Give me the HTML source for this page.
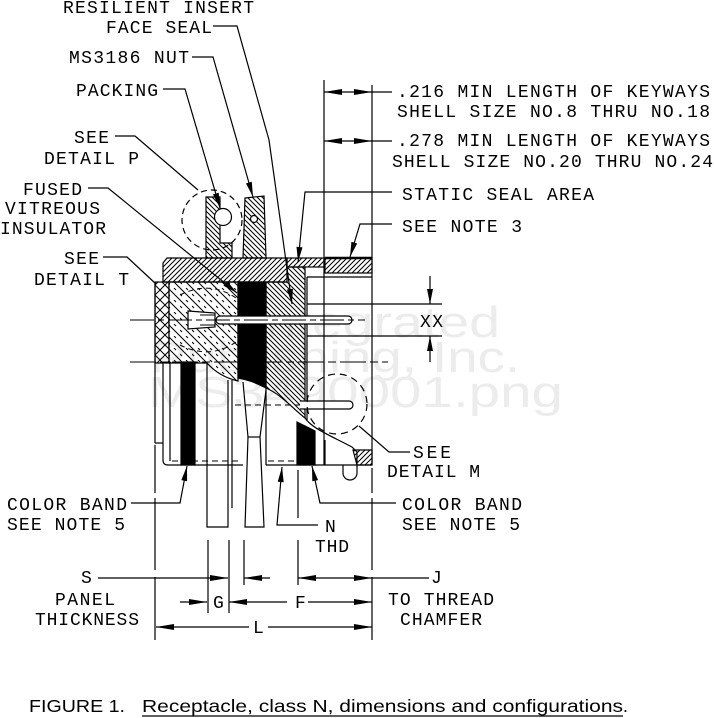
<!DOCTYPE html>
<html>
<head>
<meta charset="utf-8">
<style>
html,body{margin:0;padding:0;background:#fff;}
svg{display:block;}
.t{font-family:"Liberation Mono","DejaVu Sans Mono",monospace;font-size:18px;fill:#000;}
.c{font-family:"Liberation Sans",Arial,sans-serif;font-size:17.5px;fill:#000;}
.w{font-family:"Liberation Sans",Arial,sans-serif;font-size:44px;fill:#ececec;}
</style>
</head>
<body>
<svg width="714" height="718" viewBox="0 0 714 718" xmlns="http://www.w3.org/2000/svg">
<defs>
<pattern id="hf" width="5" height="5" patternUnits="userSpaceOnUse"><path d="M-1,1 L1,-1 M0,5 L5,0 M4,6 L6,4" stroke="#000" stroke-width="1"/></pattern>
<pattern id="hb" width="5" height="5" patternUnits="userSpaceOnUse"><path d="M-1,4 L1,6 M0,0 L5,5 M4,-1 L6,1" stroke="#000" stroke-width="1"/></pattern>
<pattern id="hx" width="10" height="10" patternUnits="userSpaceOnUse"><path d="M0,0 L10,10 M-1,9 L1,11 M9,-1 L11,1 M0,10 L10,0 M-1,1 L1,-1 M9,11 L11,9" stroke="#000" stroke-width="1"/></pattern>
<pattern id="hi" width="12" height="12" patternUnits="userSpaceOnUse"><path d="M0,0 L12,12 M-1,11 L1,13 M11,-1 L13,1" stroke="#000" stroke-width="1"/><path d="M6,0 L8,2 M0,6 L2,8" stroke="#000" stroke-width="1"/></pattern>
</defs>

<!-- watermark -->
<text class="w" x="250" y="337" textLength="250" lengthAdjust="spacingAndGlyphs">Integrated</text>
<text class="w" x="150" y="372" textLength="370" lengthAdjust="spacingAndGlyphs">Publishing, Inc.</text>
<text class="w" x="148" y="407" textLength="415" lengthAdjust="spacingAndGlyphs">MS3490001.png</text>

<g stroke="#000" stroke-width="1.2" fill="none">
<!-- flange -->
<path d="M163,263 L167,258 L287,258 L287,282 L163,282 Z" fill="url(#hf)"/>
<rect x="287" y="258" width="37" height="9" fill="url(#hf)"/>
<!-- shell top band -->
<rect x="325" y="258" width="47" height="15" fill="url(#hf)"/>
<line x1="325" y1="258" x2="372" y2="258" stroke-width="2.6"/>
<line x1="307" y1="277" x2="372" y2="277"/>
<!-- packing -->
<path d="M206,197 L220,197 L220,243 L232,243 L232,258 L206,258 Z" fill="url(#hb)"/>
<circle cx="223" cy="217" r="8.5" fill="#fff"/>
<!-- nut upper -->
<path d="M245,198 L264,196 L266,258 L243,258 Z" fill="url(#hb)"/>
<circle cx="254" cy="219" r="3.5" fill="#fff"/>
<!-- detail P circle -->
<circle cx="212" cy="220" r="30" stroke-dasharray="6,4"/>

<!-- insert -->
<rect x="155" y="282" width="14" height="81" fill="url(#hx)"/>
<path d="M169,282 L238,282 L238,381 C225,378 215,372 207,363 L169,363 Z" fill="url(#hi)"/>
<path d="M180,295 Q210,280 236,298" stroke-dasharray="5,4" stroke-width="1"/>
<path d="M180,345 Q210,360 236,342" stroke-dasharray="5,4" stroke-width="1"/>
<!-- black insulator band -->
<path d="M238,282 L266,282 L266,388 C258,384 250,380 238,378 Z" fill="#000"/>
<!-- inner shell hatched piece -->
<path d="M266,282 L287,282 L287,267 L305,267 L305,418 C292,408 282,395 266,388 Z" fill="url(#hb)"/>
<line x1="307" y1="277" x2="307" y2="420"/>

<!-- upper pin + socket -->
<path d="M220,316 L348,316 A4,4 0 0 1 348,324 L220,324 A4,4 0 0 1 220,316 Z" fill="#fff"/>
<path d="M188,311 L215,313 L215,327 L188,329 Z" fill="#fff"/>
<line x1="200" y1="315" x2="215" y2="315" stroke-width="1"/>
<line x1="200" y1="325" x2="215" y2="325" stroke-width="1"/>
<!-- lower pin -->
<path d="M300,401 L349,401 A4,4 0 0 1 349,409 L300,409" fill="#fff"/>
<line x1="235" y1="405" x2="300" y2="405" stroke-dasharray="6,4" stroke-width="1"/>

<!-- center lines -->
<line x1="130" y1="320" x2="365" y2="320" stroke-dasharray="24,4,6,4" stroke-width="1"/>
<line x1="130" y1="362" x2="388" y2="362" stroke-dasharray="26,4,8,4" stroke-width="1"/>

<!-- XX dimension -->
<line x1="307" y1="304" x2="442" y2="304"/>
<line x1="307" y1="336" x2="442" y2="336"/>
<line x1="430" y1="276" x2="430" y2="304"/>
<line x1="430" y1="336" x2="430" y2="362"/>

<!-- verticals -->
<line x1="324" y1="80" x2="324" y2="465"/>
<line x1="372" y1="85" x2="372" y2="465"/>

<!-- lower outer profile -->
<path d="M305,418 C312,428 325,433 352,447 L357,452 L357,465"/>
<path d="M353,450 L372,450 L372,465 L357,465 Z" fill="url(#hf)"/>
<path d="M343,465 L343,473 A7,7 0 0 0 357,473 L357,465"/>
<circle cx="337" cy="404" r="30" stroke-dasharray="7,5"/>
<path d="M297,422 L315,431 L315,465 L297,465 Z" fill="#000"/>

<!-- left lower body -->
<line x1="155" y1="282" x2="155" y2="443"/>
<line x1="155" y1="443" x2="163" y2="443"/>
<path d="M163,362 L163,460 Q163,465 168,465 L243,465"/>
<line x1="170" y1="362" x2="170" y2="461"/>
<rect x="181" y="362" width="14" height="103" fill="#000"/>
<line x1="266" y1="465" x2="372" y2="465"/>
<line x1="172" y1="461" x2="242" y2="461" stroke-dasharray="6,4" stroke-width="1"/>
<line x1="268" y1="461" x2="296" y2="461" stroke-dasharray="6,4" stroke-width="1"/>
<line x1="266" y1="388" x2="266" y2="465"/>
<line x1="325" y1="440" x2="325" y2="465"/>
<!-- panel -->
<path d="M207,363 L207,527 L228,527 L228,380"/>
<line x1="232" y1="380" x2="232" y2="508"/>
<!-- lower nut -->
<path d="M243,382 L248,437 L245,527 L264,527 L260,437 L266,390"/>
<line x1="248" y1="437" x2="260" y2="437"/>

<!-- leaders -->
<path d="M213,26 L237,26 L269,140 L292,304"/>
<path d="M192,57 L213,57 L253,197"/>
<path d="M163,89 L185,89 L220,208"/>
<path d="M115,136 L135,136 L198,190"/>
<path d="M88,188 L108,188 L237,293"/>
<path d="M103,257 L127,257 L156,284"/>
<path d="M392,192 L305,192 L298,262"/>
<path d="M392,224 L360,224 L350,257"/>
<line x1="324" y1="92" x2="392" y2="92"/>
<line x1="324" y1="141" x2="392" y2="141"/>
<path d="M359,426 L389,452 L410,452"/>
<path d="M131,503 L180,503 L187,466"/>
<path d="M396,503 L320,503 L312,466"/>
<path d="M318,525 L277,525 L282,467"/>

<!-- extension lines bottom -->
<line x1="155" y1="445" x2="155" y2="493"/>
<line x1="155" y1="498" x2="155" y2="570"/>
<line x1="155" y1="577" x2="155" y2="640"/>
<line x1="372" y1="468" x2="372" y2="493"/>
<line x1="372" y1="498" x2="372" y2="570"/>
<line x1="372" y1="577" x2="372" y2="640"/>
<line x1="208" y1="540" x2="208" y2="613"/>
<line x1="229" y1="540" x2="229" y2="613"/>
<line x1="244" y1="540" x2="244" y2="585"/>
<line x1="298" y1="540" x2="298" y2="585"/>
<line x1="298" y1="470" x2="298" y2="518"/>

<!-- dimension lines -->
<line x1="98" y1="578" x2="228" y2="578"/>
<line x1="244" y1="578" x2="270" y2="578"/>
<line x1="298" y1="578" x2="429" y2="578"/>
<line x1="180" y1="602" x2="207" y2="602"/>
<line x1="229" y1="602" x2="287" y2="602"/>
<line x1="308" y1="602" x2="372" y2="602"/>
<line x1="156" y1="627" x2="249" y2="627"/>
<line x1="268" y1="627" x2="372" y2="627"/>
</g>

<!-- arrowheads -->
<g fill="#000">
<polygon points="292,304 286.9,289.6 292.9,288.7"/>
<polygon points="253,197 246.0,183.4 251.8,181.8"/>
<polygon points="220,208 212.9,194.4 218.7,192.7"/>
<polygon points="237,293 223.5,285.8 227.3,281.2"/>
<polygon points="298,262 296.5,246.8 302.5,247.4"/>
<polygon points="350,257 351.4,241.7 357.2,243.5"/>
<polygon points="324,92 342,89 342,95"/>
<polygon points="372,92 354,89 354,95"/>
<polygon points="324,141 342,138 342,144"/>
<polygon points="372,141 354,138 354,144"/>
<polygon points="430,304 427,289 433,289"/>
<polygon points="430,336 427,351 433,351"/>
<polygon points="187,466 187.1,481.3 181.3,480.1"/>
<polygon points="282,467 283.7,482.2 277.7,481.7"/>
<polygon points="312,466 318.1,480.1 312.3,481.3"/>
<polygon points="228,578 210,575 210,581"/>
<polygon points="244,578 262,575 262,581"/>
<polygon points="298,578 316,575 316,581"/>
<polygon points="372,578 354,575 354,581"/>
<polygon points="207,602 189,599 189,605"/>
<polygon points="229,602 247,599 247,605"/>
<polygon points="372,602 354,599 354,605"/>
<polygon points="156,627 174,624 174,630"/>
<polygon points="372,627 354,624 354,630"/>
</g>

<!-- labels -->
<g class="t">
<text class="t" x="63" y="13" textLength="191" lengthAdjust="spacing">RESILIENT INSERT</text>
<text class="t" x="106" y="33" textLength="106" lengthAdjust="spacing">FACE SEAL</text>
<text class="t" x="69" y="63" textLength="120" lengthAdjust="spacing">MS3186 NUT</text>
<text class="t" x="76" y="96" textLength="82" lengthAdjust="spacing">PACKING</text>
<text class="t" x="74" y="143" textLength="35" lengthAdjust="spacing">SEE</text>
<text class="t" x="44" y="164" textLength="95" lengthAdjust="spacing">DETAIL P</text>
<text class="t" x="23" y="195" textLength="59" lengthAdjust="spacing">FUSED</text>
<text class="t" x="5" y="214" textLength="95" lengthAdjust="spacing">VITREOUS</text>
<text class="t" x="0" y="234" textLength="106" lengthAdjust="spacing">INSULATOR</text>
<text class="t" x="64" y="264" textLength="35" lengthAdjust="spacing">SEE</text>
<text class="t" x="34" y="285" textLength="95" lengthAdjust="spacing">DETAIL T</text>

<text class="t" x="397" y="97" textLength="313" lengthAdjust="spacing">.216 MIN LENGTH OF KEYWAYS</text>
<text class="t" x="397" y="117" textLength="313" lengthAdjust="spacing">SHELL SIZE NO.8 THRU NO.18</text>
<text class="t" x="397" y="146" textLength="313" lengthAdjust="spacing">.278 MIN LENGTH OF KEYWAYS</text>
<text class="t" x="392" y="167" textLength="321" lengthAdjust="spacing">SHELL SIZE NO.20 THRU NO.24</text>
<text class="t" x="402" y="200" textLength="192" lengthAdjust="spacing">STATIC SEAL AREA</text>
<text class="t" x="402" y="232" textLength="120" lengthAdjust="spacing">SEE NOTE 3</text>
<text class="t" x="420" y="327" textLength="23" lengthAdjust="spacing">XX</text>
<text class="t" x="413" y="458" textLength="38" lengthAdjust="spacing">SEE</text>
<text class="t" x="387" y="477" textLength="93" lengthAdjust="spacing">DETAIL M</text>

<text class="t" x="7" y="510" textLength="120" lengthAdjust="spacing">COLOR BAND</text>
<text class="t" x="7" y="530" textLength="118" lengthAdjust="spacing">SEE NOTE 5</text>
<text class="t" x="402" y="510" textLength="120" lengthAdjust="spacing">COLOR BAND</text>
<text class="t" x="402" y="530" textLength="118" lengthAdjust="spacing">SEE NOTE 5</text>
<text class="t" x="325" y="532">N</text>
<text class="t" x="315" y="552" textLength="34" lengthAdjust="spacing">THD</text>
<text class="t" x="81" y="583">S</text>
<text class="t" x="431" y="583">J</text>
<text class="t" x="55" y="605" textLength="60" lengthAdjust="spacing">PANEL</text>
<text class="t" x="35" y="625" textLength="104" lengthAdjust="spacing">THICKNESS</text>
<text class="t" x="213" y="608">G</text>
<text class="t" x="295" y="608">F</text>
<text class="t" x="388" y="605" textLength="106" lengthAdjust="spacing">TO THREAD</text>
<text class="t" x="400" y="625" textLength="82" lengthAdjust="spacing">CHAMFER</text>
<text class="t" x="253" y="633">L</text>
</g>

<!-- caption -->
<text class="c" x="29" y="712" textLength="96" lengthAdjust="spacingAndGlyphs">FIGURE 1.</text>
<text class="c" x="142" y="712" textLength="481" lengthAdjust="spacingAndGlyphs">Receptacle, class N, dimensions and configurations</text>
<text class="c" x="623" y="712">.</text>
<line x1="142" y1="716" x2="623" y2="716" stroke="#000" stroke-width="1.3"/>
</svg>
</body>
</html>
